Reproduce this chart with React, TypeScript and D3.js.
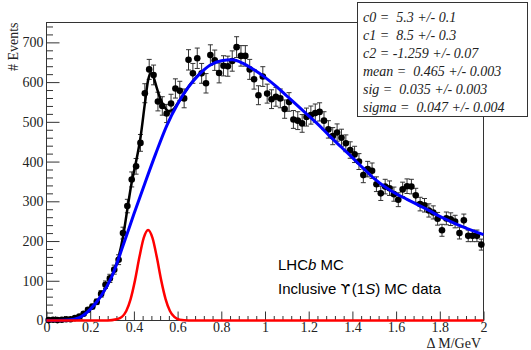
import React, { useEffect, useRef } from 'react';
import * as d3 from 'd3';

// histogram of Delta M, 100 bins of 0.02 GeV between 0 and 2
const xRange = [0, 2];
const nBins = 100;
const events = [
  1, 2, 1, 2, 3, 3, 6, 10, 17, 27,
  35, 47, 67, 90, 106, 128, 153, 220, 288, 355,
  388, 447, 572, 632, 618, 551, 540, 521, 546, 584,
  578, 559, 656, 622, 660, 622, 597, 668, 655, 623,
  641, 640, 653, 688, 666, 666, 632, 607, 567, 614,
  571, 557, 563, 559, 532, 550, 506, 503, 496, 512,
  517, 522, 525, 503, 481, 464, 473, 460, 446, 429,
  418, 400, 366, 381, 377, 343, 320, 337, 333, 318,
  304, 330, 338, 337, 315, 293, 290, 277, 272, 256,
  227, 257, 255, 249, 220, 252, 213, 213, 213, 191,
];

// fitted background (blue)
const bkgX = [0, 0.05, 0.1, 0.15, 0.2, 0.25, 0.3, 0.35, 0.4, 0.45, 0.5, 0.55, 0.6, 0.65, 0.7, 0.75, 0.8, 0.85, 0.9, 0.95,
  1.0, 1.05, 1.1, 1.15, 1.2, 1.25, 1.3, 1.35, 1.4, 1.45, 1.5, 1.55, 1.6, 1.65, 1.7, 1.75, 1.8, 1.85, 1.9, 1.95, 2.0];
const bkgY = [0, 0, 1, 7, 28, 62, 112, 188, 268, 345, 420, 490, 545, 588, 620, 643, 654, 656, 647, 631,
  612, 590, 565, 540, 515, 490, 462, 436, 410, 383, 357, 336, 319, 305, 291, 277, 262, 249, 237, 226, 216];

// signal peak (red)
const sigX = [0, 0.28, 0.32, 0.345, 0.365, 0.385, 0.405, 0.425, 0.445, 0.465, 0.485, 0.505, 0.525, 0.545, 0.565, 0.585, 0.61, 0.65, 2.0];
const sigY = [0, 0, 3, 9, 24, 54, 101, 159, 208, 228, 208, 159, 101, 54, 24, 9, 2, 0, 0];

// total fit (black)
const totX = [0.25, 0.3, 0.33, 0.35, 0.37, 0.39, 0.41, 0.43, 0.45, 0.465, 0.478, 0.49, 0.505, 0.52, 0.54, 0.56, 0.58, 0.6, 0.63, 0.66, 0.7];
const totY = [62, 114, 160, 210, 280, 348, 400, 460, 545, 605, 622, 612, 585, 560, 537, 527, 531, 546, 572, 596, 621];

const statsLines = [
  'c0 =  5.3 +/- 0.1',
  'c1 =  8.5 +/- 0.3',
  'c2 = -1.259 +/- 0.07',
  'mean =  0.465 +/- 0.003',
  'sig =  0.035 +/- 0.003',
  'sigma =  0.047 +/- 0.004',
];

const xTicks = [0, 0.2, 0.4, 0.6, 0.8, 1, 1.2, 1.4, 1.6, 1.8, 2];
const yTicks = [0, 100, 200, 300, 400, 500, 600, 700];

const serif = '"Liberation Serif", "Times New Roman", serif';
const sans = '"Liberation Sans", Arial, Helvetica, sans-serif';

const App = () => {
  const ref = useRef<SVGSVGElement>(null);

  useEffect(() => {
    const svg = d3.select(ref.current);
    svg.selectAll('*').remove();

    const x = d3.scaleLinear().domain([0, 2]).range([46.5, 483.5]);
    const y = d3.scaleLinear().domain([0, 750]).range([320.5, 22.5]);

    // frame
    svg.append('rect')
      .attr('x', x(0)).attr('y', y(750))
      .attr('width', x(2) - x(0)).attr('height', y(0) - y(750))
      .attr('fill', 'none').attr('stroke', '#333');

    // y axis, minor then major ticks
    const yMinor = d3.range(0, 38).map(i => i * 20).filter(v => v % 100 !== 0);
    svg.append('g')
      .attr('transform', `translate(${x(0)},0)`)
      .attr('color', '#333')
      .call(d3.axisLeft(y).tickValues(yMinor).tickSize(-6.5).tickFormat(() => ''))
      .call(g => g.select('.domain').remove());
    svg.append('g')
      .attr('transform', `translate(${x(0)},0)`)
      .attr('color', '#333')
      .call(d3.axisLeft(y).tickValues(yTicks).tickSize(-13).tickPadding(3).tickFormat(d3.format('d')))
      .call(g => g.select('.domain').remove())
      .attr('font-family', serif).attr('font-size', 14)
      .call(g => g.selectAll('text').attr('fill', '#222'));

    // x axis
    const xMinor = d3.range(0, 51).filter(i => i % 5 !== 0).map(i => i * 0.04);
    svg.append('g')
      .attr('transform', `translate(0,${y(0)})`)
      .attr('color', '#333')
      .call(d3.axisBottom(x).tickValues(xMinor).tickSize(-4.5).tickFormat(() => ''))
      .call(g => g.select('.domain').remove());
    svg.append('g')
      .attr('transform', `translate(0,${y(0)})`)
      .attr('color', '#333')
      .call(d3.axisBottom(x).tickValues(xTicks).tickSize(-9).tickPadding(2).tickFormat(d => String(+(+d).toFixed(1))))
      .call(g => g.select('.domain').remove())
      .attr('font-family', serif).attr('font-size', 14)
      .call(g => g.selectAll('text').attr('fill', '#222'));

    // axis titles
    svg.append('text')
      .attr('transform', `translate(18,${y(750)}) rotate(-90)`)
      .attr('text-anchor', 'end')
      .attr('font-family', serif).attr('font-size', 14).attr('fill', '#222')
      .text('# Events');
    svg.append('text')
      .attr('x', 481).attr('y', 347.5)
      .attr('text-anchor', 'end')
      .attr('font-family', serif).attr('font-size', 14).attr('fill', '#222')
      .text('\u0394 M/GeV');

    // data points with error bars
    const binW = (xRange[1] - xRange[0]) / nBins;
    const pts = events.map((v, i) => ({ c: xRange[0] + (i + 0.5) * binW, v, e: Math.sqrt(v) }));
    const bars = svg.append('g').attr('stroke', '#333').attr('stroke-width', 1);
    pts.forEach(p => {
      const cx = x(p.c);
      const y1 = y(p.v - p.e), y2 = y(Math.min(p.v + p.e, 750));
      bars.append('line').attr('x1', cx).attr('x2', cx).attr('y1', y1).attr('y2', y2);
      bars.append('line').attr('x1', cx - 2.5).attr('x2', cx + 2.5).attr('y1', y1).attr('y2', y1);
      bars.append('line').attr('x1', cx - 2.5).attr('x2', cx + 2.5).attr('y1', y2).attr('y2', y2);
    });
    svg.append('g').selectAll('circle')
      .data(pts)
      .enter()
      .append('circle')
      .attr('cx', d => x(d.c))
      .attr('cy', d => y(d.v))
      .attr('r', 3.3)
      .attr('fill', '#000');

    // fit curves
    const line = d3.line<[number, number]>()
      .x(d => x(d[0]))
      .y(d => y(d[1]))
      .curve(d3.curveMonotoneX);

    svg.append('path')
      .attr('d', line(totX.map((v, i) => [v, totY[i]] as [number, number])))
      .attr('fill', 'none').attr('stroke', '#000').attr('stroke-width', 2.5);
    svg.append('path')
      .attr('d', line(bkgX.map((v, i) => [v, bkgY[i]] as [number, number])))
      .attr('fill', 'none').attr('stroke', '#0000ff').attr('stroke-width', 3);
    svg.append('path')
      .attr('d', line(sigX.map((v, i) => [v, sigY[i]] as [number, number])))
      .attr('fill', 'none').attr('stroke', '#ff0000').attr('stroke-width', 2.5);

    // labels
    const lhcb = svg.append('text')
      .attr('x', 278).attr('y', 270)
      .attr('font-family', sans).attr('font-size', 15).attr('fill', '#000');
    lhcb.append('tspan').text('LHC');
    lhcb.append('tspan').attr('font-style', 'italic').text('b');
    lhcb.append('tspan').text(' MC');

    const incl = svg.append('text')
      .attr('x', 278).attr('y', 294)
      .attr('font-family', sans).attr('font-size', 15).attr('fill', '#000');
    incl.append('tspan').text('Inclusive ');
    incl.append('tspan').attr('font-family', '"DejaVu Sans", sans-serif').attr('font-size', 14).text('\u03D2');
    incl.append('tspan').attr('dx', 1.5).text('(1');
    incl.append('tspan').attr('font-style', 'italic').text('S');
    incl.append('tspan').text(') MC data');

    // stats box
    svg.append('rect')
      .attr('x', 357.5).attr('y', 2.5)
      .attr('width', 170).attr('height', 114)
      .attr('fill', '#fff').attr('stroke', '#333');
    svg.append('g')
      .selectAll('text')
      .data(statsLines)
      .enter()
      .append('text')
      .attr('x', 363)
      .attr('y', (d, i) => 22 + i * 18)
      .attr('font-family', serif).attr('font-size', 14)
      .attr('font-style', 'italic').attr('fill', '#222')
      .style('white-space', 'pre')
      .text(d => d);
  }, []);

  return (
    <svg
      ref={ref}
      width={531}
      height={350}
      style={{ position: 'absolute', left: 0, top: 0, background: '#fff' }}
    />
  );
};

export default App;
